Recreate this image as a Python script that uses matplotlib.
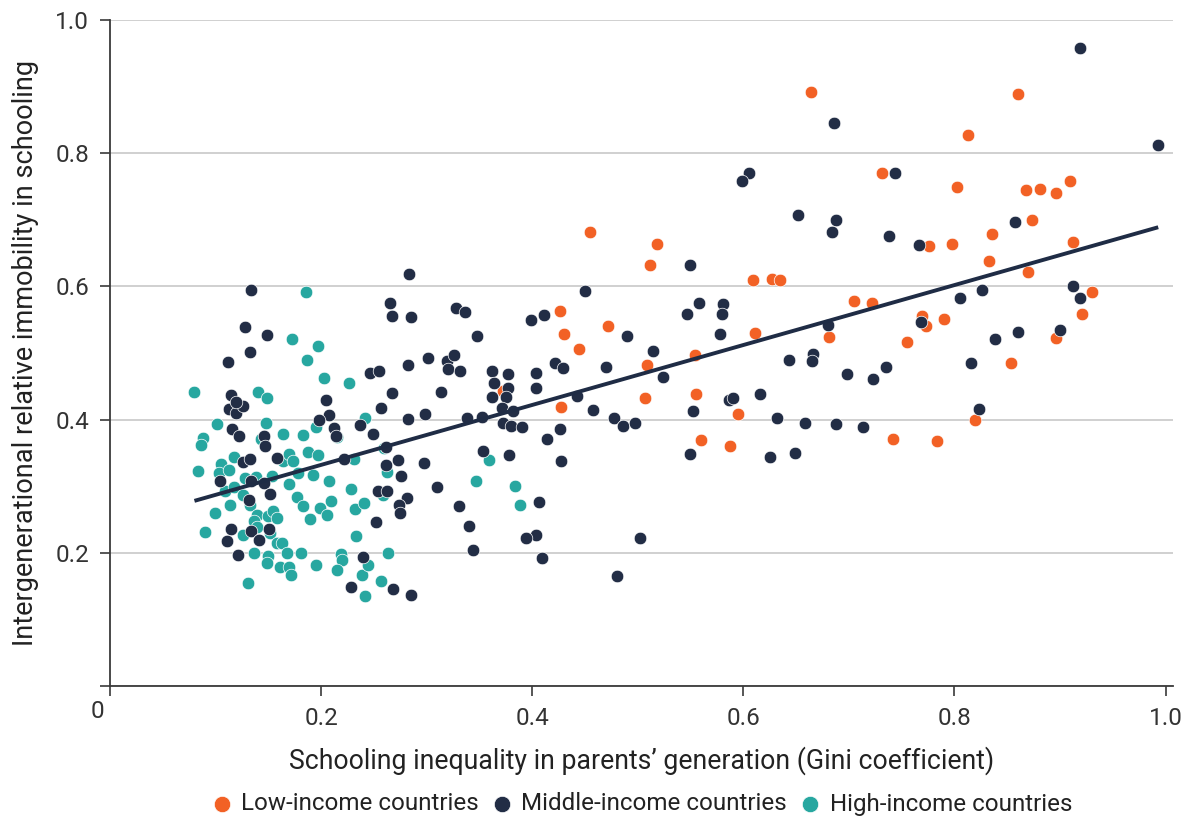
import matplotlib
matplotlib.use("Agg")
import matplotlib.pyplot as plt
import numpy as np

plt.rcParams['font.family'] = ['Roboto', 'DejaVu Sans']

# ---------------- data ----------------
low_x = [0.664, 0.860, 0.8125, 0.731, 0.802, 0.868, 0.881, 0.896, 0.909, 0.873,
         0.912, 0.798, 0.776, 0.836, 0.833, 0.870, 0.455, 0.518, 0.512, 0.609,
         0.627, 0.635, 0.930, 0.705, 0.722, 0.426, 0.430, 0.444, 0.472, 0.611,
         0.554, 0.509, 0.681, 0.769, 0.773, 0.790, 0.755, 0.921, 0.896, 0.854,
         0.427, 0.507, 0.555, 0.560, 0.587, 0.595, 0.742, 0.783, 0.819, 0.372]
low_y = [0.892, 0.889, 0.827, 0.770, 0.749, 0.745, 0.746, 0.740, 0.758, 0.700,
         0.667, 0.664, 0.661, 0.679, 0.638, 0.622, 0.682, 0.664, 0.632, 0.610,
         0.611, 0.610, 0.592, 0.578, 0.575, 0.563, 0.529, 0.506, 0.541, 0.530,
         0.497, 0.482, 0.524, 0.556, 0.541, 0.551, 0.517, 0.559, 0.523, 0.485,
         0.419, 0.432, 0.438, 0.369, 0.360, 0.408, 0.371, 0.368, 0.399, 0.443]

mid_x = [0.919, 0.993, 0.686, 0.605, 0.599, 0.744, 0.652, 0.688, 0.684, 0.738,
         0.766, 0.857, 0.549, 0.450, 0.411, 0.547, 0.558, 0.581, 0.580, 0.490,
         0.578, 0.514, 0.422, 0.429, 0.470, 0.524, 0.404, 0.404, 0.442, 0.458,
         0.477, 0.486, 0.497, 0.552, 0.586, 0.590, 0.616, 0.426, 0.414, 0.427,
         0.549, 0.406, 0.404, 0.409, 0.502, 0.480, 0.680, 0.768, 0.805, 0.826,
         0.912, 0.919, 0.643, 0.666, 0.665, 0.698, 0.723, 0.735, 0.860, 0.900,
         0.838, 0.816, 0.823, 0.632, 0.658, 0.688, 0.713, 0.625, 0.649,
         0.283, 0.265, 0.267, 0.285, 0.328, 0.336, 0.348, 0.399, 0.246, 0.255,
         0.282, 0.301, 0.319, 0.326, 0.320, 0.332, 0.362, 0.377, 0.364, 0.377,
         0.362, 0.375, 0.267, 0.314, 0.257, 0.282, 0.298, 0.338, 0.352, 0.371,
         0.382, 0.372, 0.380, 0.390, 0.249, 0.261, 0.261, 0.273, 0.276, 0.297,
         0.353, 0.378, 0.254, 0.262, 0.281, 0.274, 0.275, 0.252, 0.310, 0.331,
         0.340, 0.344, 0.394, 0.268, 0.285, 0.240, 0.228,
         0.134, 0.128, 0.149, 0.133, 0.112, 0.115, 0.113, 0.119, 0.126, 0.119,
         0.116, 0.122, 0.146, 0.147, 0.126, 0.133, 0.158, 0.104, 0.134, 0.146,
         0.152, 0.132, 0.115, 0.111, 0.134, 0.141, 0.151, 0.121, 0.205, 0.207,
         0.198, 0.212, 0.214, 0.237, 0.222]
mid_y = [0.958, 0.812, 0.845, 0.770, 0.758, 0.770, 0.707, 0.700, 0.682, 0.676,
         0.662, 0.697, 0.632, 0.593, 0.557, 0.559, 0.575, 0.574, 0.559, 0.526,
         0.529, 0.503, 0.485, 0.477, 0.479, 0.464, 0.470, 0.447, 0.435, 0.414,
         0.402, 0.390, 0.395, 0.413, 0.429, 0.432, 0.438, 0.386, 0.371, 0.338,
         0.348, 0.276, 0.227, 0.192, 0.222, 0.165, 0.542, 0.547, 0.583, 0.595,
         0.601, 0.583, 0.489, 0.498, 0.488, 0.468, 0.461, 0.479, 0.532, 0.535,
         0.521, 0.485, 0.416, 0.402, 0.395, 0.393, 0.389, 0.344, 0.350,
         0.619, 0.575, 0.556, 0.554, 0.568, 0.562, 0.526, 0.550, 0.470, 0.473,
         0.482, 0.492, 0.488, 0.497, 0.476, 0.473, 0.473, 0.468, 0.455, 0.447,
         0.434, 0.434, 0.440, 0.441, 0.417, 0.401, 0.408, 0.402, 0.404, 0.417,
         0.413, 0.395, 0.390, 0.389, 0.378, 0.359, 0.332, 0.339, 0.315, 0.335,
         0.353, 0.347, 0.293, 0.293, 0.282, 0.272, 0.260, 0.246, 0.299, 0.270,
         0.240, 0.204, 0.222, 0.146, 0.137, 0.194, 0.149,
         0.595, 0.539, 0.527, 0.502, 0.486, 0.437, 0.416, 0.410, 0.420, 0.426,
         0.386, 0.375, 0.375, 0.360, 0.336, 0.341, 0.342, 0.308, 0.308, 0.305,
         0.288, 0.279, 0.236, 0.218, 0.233, 0.219, 0.236, 0.197, 0.429, 0.407,
         0.399, 0.387, 0.375, 0.392, 0.341]

high_x = [0.080, 0.101, 0.088, 0.086, 0.083, 0.090, 0.099, 0.105, 0.103, 0.113,
          0.117, 0.128, 0.138, 0.109, 0.117, 0.114, 0.126, 0.133, 0.126, 0.140,
          0.149, 0.148, 0.143, 0.139, 0.136, 0.139, 0.150, 0.154, 0.158, 0.152,
          0.136, 0.150, 0.149, 0.158, 0.163, 0.168, 0.161, 0.170, 0.171, 0.181,
          0.195, 0.131, 0.186, 0.172, 0.197, 0.187, 0.203, 0.226, 0.164, 0.183,
          0.195, 0.242, 0.215, 0.153, 0.164, 0.170, 0.173, 0.188, 0.197, 0.178,
          0.192, 0.170, 0.207, 0.228, 0.231, 0.177, 0.183, 0.199, 0.209, 0.206,
          0.189, 0.232, 0.241, 0.233, 0.219, 0.220, 0.215, 0.239, 0.244, 0.242,
          0.257, 0.260, 0.262, 0.259, 0.359, 0.347, 0.384, 0.388, 0.263]
high_y = [0.441, 0.393, 0.372, 0.362, 0.323, 0.231, 0.260, 0.333, 0.320, 0.324,
          0.344, 0.312, 0.314, 0.293, 0.299, 0.272, 0.287, 0.272, 0.227, 0.441,
          0.432, 0.395, 0.371, 0.257, 0.248, 0.239, 0.255, 0.263, 0.252, 0.230,
          0.200, 0.195, 0.185, 0.215, 0.215, 0.200, 0.179, 0.179, 0.167, 0.200,
          0.182, 0.155, 0.592, 0.521, 0.511, 0.489, 0.462, 0.455, 0.378, 0.377,
          0.389, 0.402, 0.374, 0.315, 0.338, 0.348, 0.338, 0.351, 0.347, 0.320,
          0.317, 0.303, 0.308, 0.296, 0.341, 0.284, 0.270, 0.267, 0.278, 0.257,
          0.251, 0.266, 0.275, 0.225, 0.198, 0.189, 0.174, 0.167, 0.182, 0.135,
          0.158, 0.357, 0.321, 0.287, 0.339, 0.308, 0.300, 0.272, 0.200]

# fitted line
fit_intercept = 0.242
fit_slope = 0.45

x_ticks = [0, 0.2, 0.4, 0.6, 0.8, 1.0]
x_ticklabels = ['', '0.2', '0.4', '0.6', '0.8', '1.0']
y_ticks = [0, 0.2, 0.4, 0.6, 0.8, 1.0]
y_ticklabels = ['', '0.2', '0.4', '0.6', '0.8', '1.0']

series_names = ['Low-income countries', 'Middle-income countries', 'High-income countries']
colors = ['#F26125', '#222D45', '#27A7A0']

# ---------------- figure ----------------
fig = plt.figure(figsize=(11.9, 8.16), dpi=100)
ax = fig.add_axes([110 / 1190, 1 - 686 / 816, 1063 / 1190, 666 / 816])

ax.set_xlim(0, 1.007)
ax.set_ylim(0, 1.0)

ax.grid(axis='y', color='#c8c8c8', linewidth=1.2, zorder=0)
ax.set_axisbelow(True)

msize = 82
sc_low = ax.scatter(low_x, low_y, s=msize, color=colors[0], edgecolors='white',
                    linewidths=0.5, zorder=3, label=series_names[0])
sc_high = ax.scatter(high_x, high_y, s=msize, color=colors[2], edgecolors='white',
                     linewidths=0.5, zorder=3, label=series_names[2])
sc_mid = ax.scatter(mid_x, mid_y, s=msize, color=colors[1], edgecolors='white',
                    linewidths=0.5, zorder=3, label=series_names[1])

all_x = np.array(low_x + mid_x + high_x)
xs = np.array([all_x.min(), all_x.max()])
ax.plot(xs, fit_intercept + fit_slope * xs, color='#1F2C45', linewidth=2.8,
        solid_capstyle='butt', zorder=4)

for side in ['top', 'right']:
    ax.spines[side].set_visible(False)
for side in ['left', 'bottom']:
    ax.spines[side].set_color('#3a3a3a')
    ax.spines[side].set_linewidth(1.3)

ax.set_xticks(x_ticks)
ax.set_xticklabels(x_ticklabels)
ax.set_yticks(y_ticks)
ax.set_yticklabels(y_ticklabels)
ax.tick_params(axis='both', direction='out', length=7, width=1.2, color='#3a3a3a',
               labelsize=17.5, labelcolor='#333333', pad=8)

fig.text(97 / 1190, 1 - 712 / 816, '0', fontsize=17.5, color='#333333',
         ha='center', va='center')

ax.set_xlabel('Schooling inequality in parents\u2019 generation (Gini coefficient)',
              fontsize=19.2, color='#222222', labelpad=12)
ax.set_ylabel('Intergenerational relative immobility in schooling',
              fontsize=19.5, color='#222222', labelpad=12)

leg = fig.legend(handles=[sc_low, sc_mid, sc_high], labels=series_names,
                 loc='center', bbox_to_anchor=(641 / 1190, 1 - 804 / 816), ncol=3,
                 frameon=False, fontsize=17.4, handletextpad=0.3, handlelength=1.0,
                 columnspacing=0.45, markerscale=1.3, borderaxespad=0, borderpad=0)
for t in leg.get_texts():
    t.set_color('#222222')

fig.savefig('out.png', dpi=100)
